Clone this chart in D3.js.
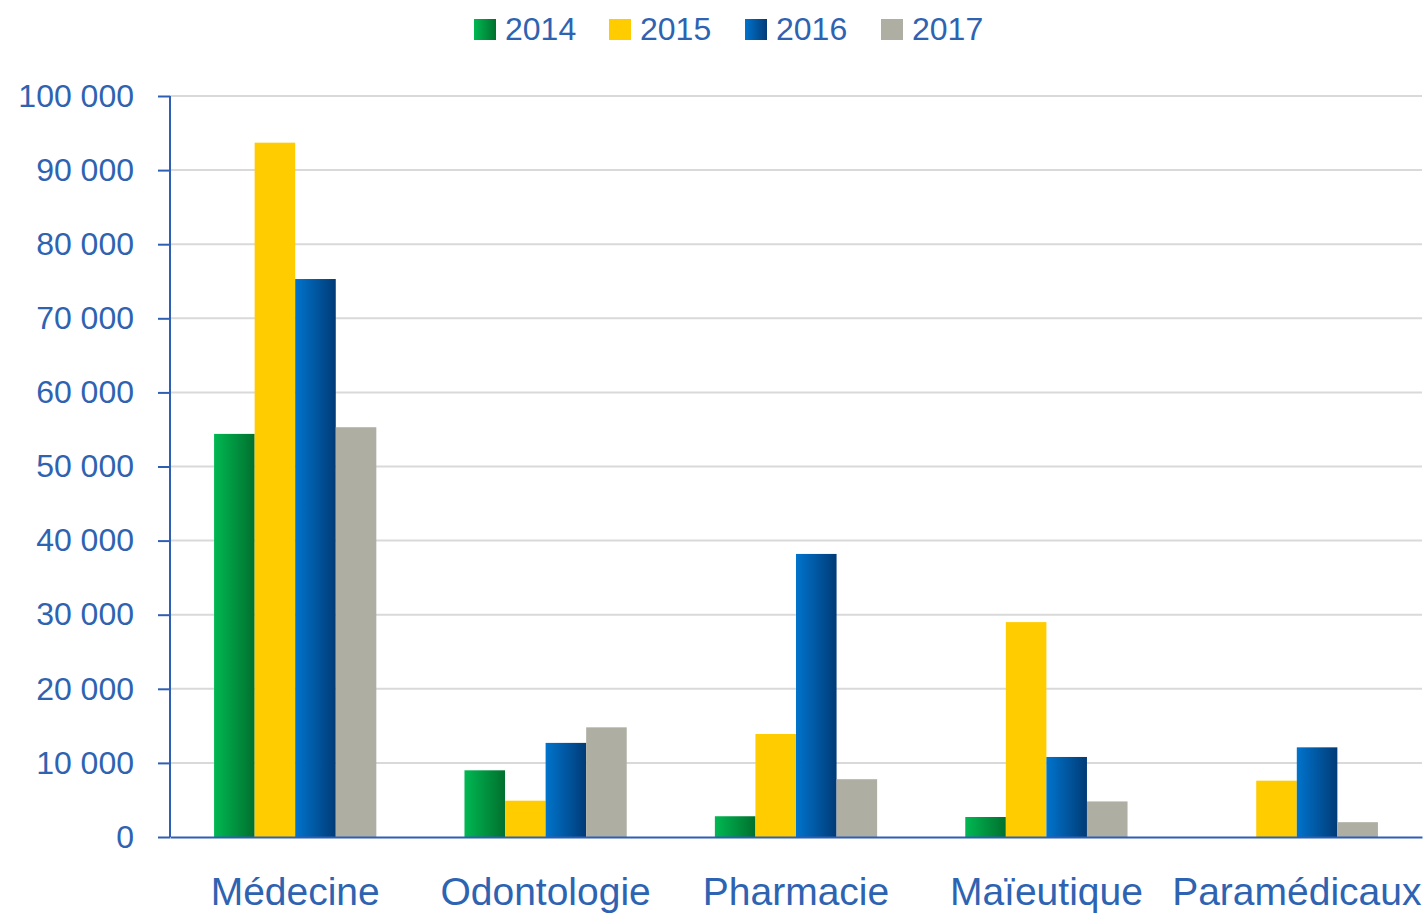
<!DOCTYPE html>
<html>
<head>
<meta charset="utf-8">
<script src="https://cdn.jsdelivr.net/npm/d3@7/dist/d3.min.js"></script>
<style>
  body { margin: 0; background: #fff; }
  svg { display: block; font-family: "Liberation Sans", Arial, sans-serif; }
</style>
</head>
<body>
<svg id="chart" width="1424" height="913"></svg>
<script>
const categories = ['Médecine', 'Odontologie', 'Pharmacie', 'Maïeutique', 'Paramédicaux'];
const years = ['2014', '2015', '2016', '2017'];
const v2014 = [54400, 9000, 2800, 2700, 0];
const v2015 = [93700, 4900, 13900, 29000, 7600];
const v2016 = [75300, 12700, 38200, 10800, 12100];
const v2017 = [55300, 14800, 7800, 4800, 2000];
const yTicks = [0, 10000, 20000, 30000, 40000, 50000, 60000, 70000, 80000, 90000, 100000];

const series = [v2014, v2015, v2016, v2017];
const textColor = '#2e63b2';
const axisColor = '#2f5fb3';

const width = 1424, height = 913;
const margin = {top: 96, right: 2, bottom: 76, left: 170};

const svg = d3.select('#chart');

// gradients for green and blue
const defs = svg.append('defs');
function grad (id, c1, c2) {
  const g = defs.append('linearGradient').attr('id', id)
    .attr('x1', '0%').attr('x2', '100%').attr('y1', '0%').attr('y2', '0%');
  g.append('stop').attr('offset', '0%').attr('stop-color', c1);
  g.append('stop').attr('offset', '100%').attr('stop-color', c2);
}
grad('gGreen', '#00b852', '#00702e');
grad('gBlue', '#0074cc', '#003b77');
const fills = ['url(#gGreen)', '#ffcc00', 'url(#gBlue)', '#aeafa2'];

const x = d3.scaleBand()
  .domain(categories)
  .range([margin.left, width - margin.right])
  .paddingInner(0)
  .paddingOuter(0);

const xs = d3.scaleBand()
  .domain(years)
  .range([0, x.bandwidth() * 0.648])
  .padding(0);

const y = d3.scaleLinear()
  .domain([0, 100000])
  .range([height - margin.bottom, margin.top]);

// grid lines
svg.append('g')
  .selectAll('line')
  .data(yTicks.filter(d => d > 0))
  .enter().append('line')
  .attr('x1', margin.left)
  .attr('x2', width - margin.right)
  .attr('y1', d => y(d))
  .attr('y2', d => y(d))
  .attr('stroke', '#d9d9d9')
  .attr('stroke-width', 2);

// bars
const groupOffset = (x.bandwidth() - xs.range()[1]) / 2;
const group = svg.append('g')
  .selectAll('g')
  .data(categories)
  .enter().append('g')
  .attr('transform', d => 'translate(' + (x(d) + groupOffset) + ',0)');

group.selectAll('rect')
  .data((d, i) => years.map((yr, k) => ({yr: yr, k: k, v: series[k][i]})))
  .enter().append('rect')
  .attr('x', d => xs(d.yr))
  .attr('width', xs.bandwidth())
  .attr('y', d => y(d.v))
  .attr('height', d => y(0) - y(d.v))
  .attr('fill', d => fills[d.k]);

// y axis
const yAxis = d3.axisLeft(y)
  .tickValues(yTicks)
  .tickSize(12)
  .tickPadding(24)
  .tickFormat(d => d3.format(',')(d).replace(/,/g, ' '));

const yg = svg.append('g')
  .attr('transform', 'translate(' + margin.left + ',0)')
  .call(yAxis);
yg.select('.domain').attr('stroke', axisColor).attr('stroke-width', 2)
  .attr('d', 'M0,' + y(100000) + 'V' + y(0));
yg.selectAll('.tick line').attr('stroke', axisColor).attr('stroke-width', 2);
yg.selectAll('.tick text')
  .attr('fill', textColor)
  .style('font-size', '32px');

// x axis
const xg = svg.append('g')
  .attr('transform', 'translate(0,' + y(0) + ')')
  .call(d3.axisBottom(x).tickSize(0).tickPadding(40));
xg.select('.domain').attr('stroke', axisColor).attr('stroke-width', 2);
xg.selectAll('.tick text')
  .attr('fill', textColor)
  .style('font-size', '39px');

// legend
const legendX = [474, 609, 745, 881];
const legend = svg.append('g')
  .selectAll('g')
  .data(years)
  .enter().append('g')
  .attr('transform', (d, i) => 'translate(' + legendX[i] + ',19)');
legend.append('rect')
  .attr('width', 22)
  .attr('height', 21)
  .attr('fill', (d, i) => fills[i]);
legend.append('text')
  .attr('x', 31)
  .attr('y', 21)
  .attr('fill', textColor)
  .style('font-size', '32px')
  .text(d => d);
</script>
</body>
</html>
